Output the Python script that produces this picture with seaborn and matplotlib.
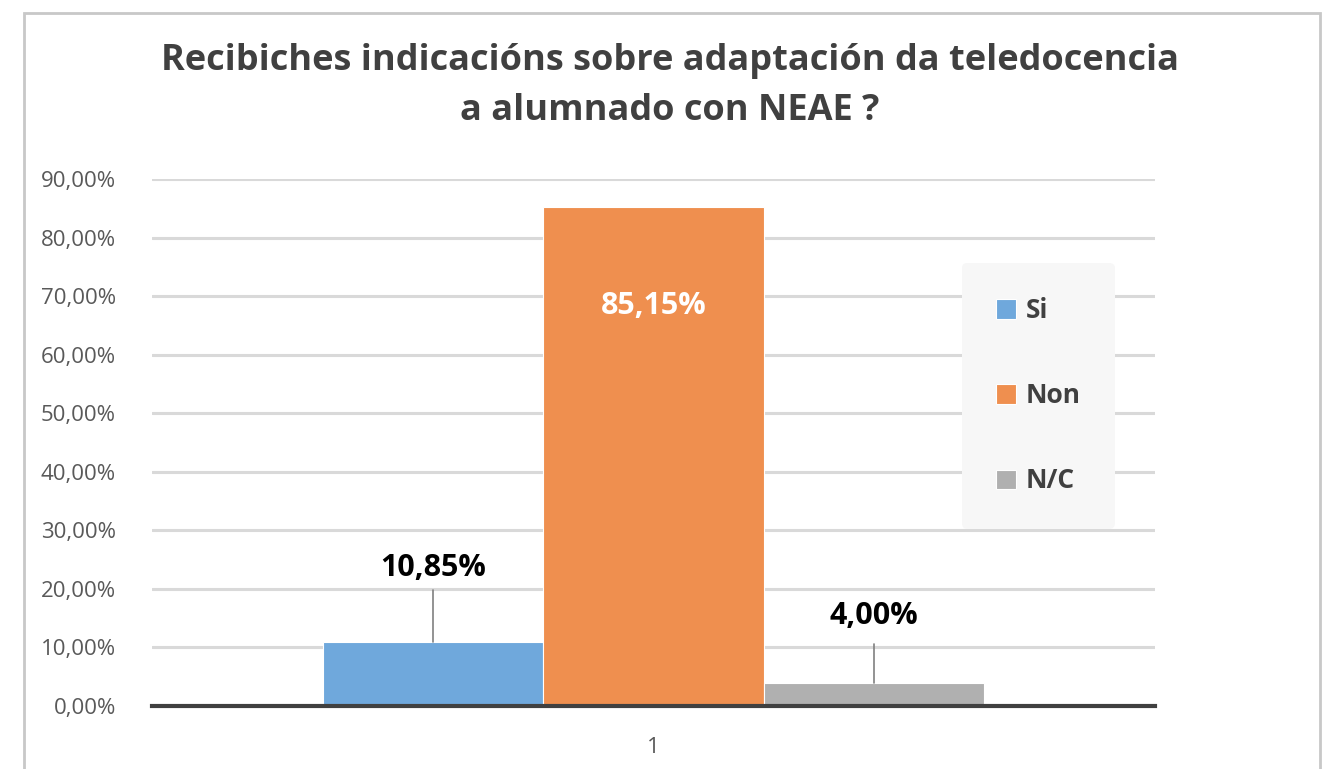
import matplotlib
matplotlib.use("Agg")
import matplotlib.pyplot as plt
import seaborn as sns
import pandas as pd
from matplotlib.patches import Rectangle

categories = ["1"]
series = ["Si", "Non", "N/C"]
values = [10.85, 85.15, 4.00]
labels = ["10,85%", "85,15%", "4,00%"]
colors = ["#6fa8dc", "#ef8f4f", "#b0b0b0"]
yticks = [0, 10, 20, 30, 40, 50, 60, 70, 80, 90]
title = "Recibiches indicacións sobre adaptación da teledocencia\na alumnado con NEAE ?"

sns.set_theme(style="white")
plt.rcParams['font.family'] = ['Open Sans', 'DejaVu Sans']

df = pd.DataFrame({"cat": categories * len(series), "serie": series, "val": values})

fig = plt.figure(figsize=(13.34, 7.69), dpi=100)
ax = fig.add_axes([152/1334, 1 - 706/769, (1155-152)/1334, (706-179)/769])

sns.barplot(data=df, x="cat", y="val", hue="serie", hue_order=series,
            palette=colors, width=0.66, ax=ax, saturation=1, zorder=3,
            edgecolor="white", linewidth=0.8)

ax.set_xlim(-0.5, 0.5)
ax.set_ylim(0, 90)
ax.set_yticks(yticks)
ax.set_yticklabels([f"{v},00%" for v in yticks], fontsize=16, color="#595959")
ax.tick_params(axis="x", labelsize=16, labelcolor="#595959", pad=22, length=0)
ax.tick_params(axis="y", length=0, pad=26)
ax.set_xlabel("")
ax.set_ylabel("")
ax.yaxis.grid(True, color="#d9d9d9", linewidth=2.2, zorder=0)
ax.set_axisbelow(True)
for s in ["top", "right", "left"]:
    ax.spines[s].set_visible(False)
ax.spines["bottom"].set_color("#404040")
ax.spines["bottom"].set_linewidth(3)
ax.spines["bottom"].set_zorder(5)

# bar labels
bars = [p for p in ax.patches if p.get_height() > 0][:3]
bars = sorted(bars, key=lambda p: p.get_x())
for p, v, lab in zip(bars, values, labels):
    cx = p.get_x() + p.get_width() / 2
    if v > 50:
        ax.text(cx, v - 16.8, lab, ha="center", va="center", color="white",
                fontsize=22, fontweight="bold", zorder=6)
    else:
        top = v + 11.6
        ax.plot([cx, cx], [v, v + 9.0 if v > 10 else v + 6.6], color="#808080",
                linewidth=1.2, zorder=4)
        ax.text(cx, top + (1.2 if v > 10 else -0.2), lab, ha="center", va="center",
                color="black", fontsize=22, fontweight="bold", zorder=6)

leg = ax.legend(loc="upper left", bbox_to_anchor=((962-152)/1003, (706-263)/527),
                frameon=True, fontsize=19, labelspacing=2.2, handlelength=0.75,
                handleheight=0.75, handletextpad=0.35, borderpad=1.3,
                borderaxespad=0)
leg.get_frame().set_facecolor("#f7f7f7")
leg.get_frame().set_edgecolor("none")
leg.get_frame().set_alpha(1)
for t in leg.get_texts():
    t.set_fontweight("bold")
    t.set_color("#404040")

fig.text(670/1334, 1 - 86/769, title, ha="center", va="center", fontsize=26,
         fontweight="bold", color="#404040", linespacing=1.5)

fig.patches.append(Rectangle((24/1334, -0.05), (1320-24)/1334, 1.05 - 13/769,
                             transform=fig.transFigure, fill=False,
                             edgecolor="#c8c8c8", linewidth=2))

fig.savefig("out.png", dpi=100)
